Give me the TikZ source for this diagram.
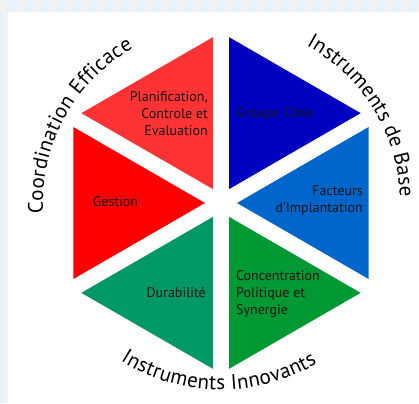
\documentclass[tikz,border=0pt]{standalone}
\usepackage{fontspec}
\setmainfont{PT Sans}
\newfontfamily\curvefont{PT Sans}
\usetikzlibrary{calc,decorations.text}
\definecolor{redA}{HTML}{FF3333}
\definecolor{redB}{HTML}{FF0000}
\definecolor{blueA}{HTML}{0000C0}
\definecolor{blueB}{HTML}{0066CC}
\definecolor{greenA}{HTML}{009933}
\definecolor{greenB}{HTML}{009966}
\definecolor{bandgray}{HTML}{F2F2F2}
\definecolor{bandblue}{HTML}{E3F2FC}
\begin{document}
\begin{tikzpicture}[x=1pt,y=1pt,
  lbl/.style={font=\fontsize{14}{17}\selectfont, text=black!92, inner sep=0pt},
  curved/.style={decorate, decoration={text along path, text align=fit to path, text={|\curvefont\fontsize{21}{25}\selectfont|#1}}}]
\useasboundingbox (0,0) rectangle (419,-403);
\fill[white] (0,0) rectangle (419,-403);
% page background bands
\fill[bandgray] (0,0) rectangle (419,-12);
\foreach \i in {0,...,25} \fill[bandblue] ({9+16*\i},0) rectangle ({17+16*\i},-12);
\fill[bandgray] (0,-12) rectangle (8,-403);
\fill[bandblue] (0,-12) rectangle (3,-403);
% hexagon of six triangles
\coordinate (C) at (221,-203);
\foreach \a/\col in {120/redA,180/redB,60/blueA,0/blueB,300/greenA,240/greenB}
  \fill[\col] ($(C)+(\a:16pt)$) -- ++(\a-30:152pt) -- ++(\a+90:152pt) -- cycle;
% labels
\node[lbl, anchor=east, align=right] (pce) at (208,-114) {Planification,\\Controle et\\Evaluation};
\node[lbl, anchor=west] (gc) at (236,-114) {Groupe Cible};
\node[lbl] (ges) at (115.5,-202) {Gestion};
\node[lbl, anchor=east, align=right] (fi) at (363,-200.5) {Facteurs\\d'Implantation};
\node[lbl, anchor=east] (dur) at (206,-293) {Durabilité};
\node[lbl, anchor=west, align=left] (cps) at (236,-294) {Concentration\\Politique et\\Synergie};
% curved titles
\path[curved={Coordination Efficace}] ($(C)+(183.5:178pt)$) arc[start angle=183.5, end angle=119.5, radius=178pt];
\path[curved={Instruments de Base}] ($(C)+(61.5:179pt)$) arc[start angle=61.5, end angle=2, radius=179pt];
\path[curved={Instruments Innovants}] ($(C)+(237.5:187pt)$) arc[start angle=237.5, end angle=301, radius=187pt];
\end{tikzpicture}
\end{document}
